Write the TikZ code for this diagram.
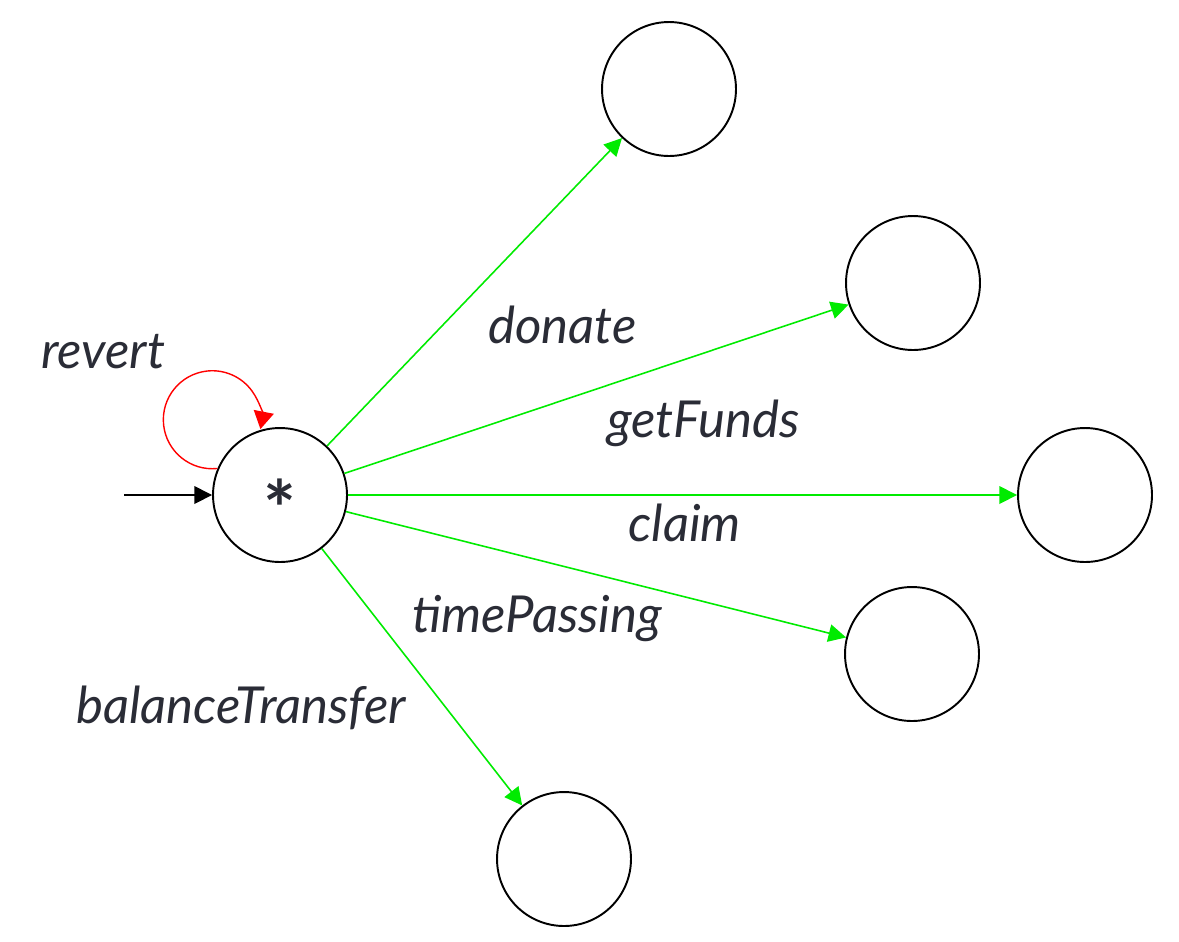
\documentclass[tikz,border=0pt]{standalone}
\usepackage{fontspec}
\setmainfont{Lato}
\usepackage{tikz}
\usetikzlibrary{arrows.meta}

\definecolor{labeltext}{RGB}{42,44,54}
\definecolor{okgreen}{RGB}{0,235,0}

\tikzset{
    state/.style={draw=black, line width=1.1pt, circle, minimum size=2.68cm, inner sep=0pt},
    transition/.style={draw=okgreen, line width=0.9pt, -{Triangle[length=10pt,width=10pt]}},
    fail/.style={draw=red, line width=0.8pt, -{Triangle[length=10pt,width=11.5pt]}},
    entry/.style={draw=black, line width=0.9pt, -{Triangle[length=10pt,width=10pt]}},
    action/.style={anchor=base west, text=labeltext, inner sep=0pt,
        font=\fontsize{29}{35}\selectfont\itshape}
}

\begin{document}
\begin{tikzpicture}[x=0.02cm, y=-0.02cm]
        \useasboundingbox (0,0) rectangle (1179,941);
        % states
        \node[state] (init) at (280,495) {};
        \node[text=labeltext, font=\fontsize{44}{44}\selectfont\bfseries] at (280,508) (star) {*};
        \node[state] (donated) at (669,89) {};
        \node[state] (funded) at (913,283) {};
        \node[state] (claimed) at (1085,495) {};
        \node[state] (passed) at (912,654) {};
        \node[state] (moved) at (564,859) {};
        % entry and revert loop
        \coordinate (in) at (124,495);
        \draw[entry] (in) -- (init);
        \draw[fail] (init.157) arc[start angle=-84, end angle=-371, radius=0.98cm];
        % transitions
        \foreach \s in {donated, funded, claimed, passed, moved}
        \draw[transition] (init) -- (\s);
        % labels
        \node[action] (lrevert) at (41,368) {revert};
        \node[action] (ldonate) at (488,343) {donate};
        \node[action] (lfunds) at (607,437) {getFunds};
        \node[action] (lclaim) at (628,541) {claim};
        \node[action] (lpassing) at (412,632) {timePassing};
        \node[action] (ltransfer) at (76,723) {balanceTransfer};
    \end{tikzpicture}
\end{document}
